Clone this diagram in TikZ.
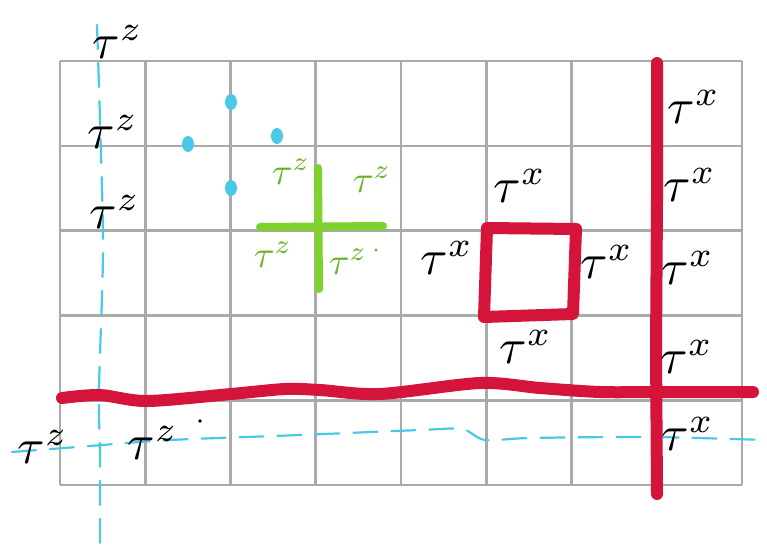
\documentclass[tikz,border=0pt]{standalone}
\usepackage{graphicx}
\definecolor{gridgray}{RGB}{170,170,170}
\definecolor{penred}{RGB}{212,20,58}
\definecolor{pengreen}{RGB}{125,210,45}
\definecolor{penblue}{RGB}{75,200,230}
\newcommand{\bigtau}[1]{\scalebox{5}{$\tau^{#1}$}}
\newcommand{\midtau}[1]{\scalebox{3.8}{$\tau^{#1}$}}
\tikzset{
  gridline/.style={draw=gridgray,line width=2.6pt},
  redpen/.style={draw=penred,line width=12pt,line cap=round,line join=round},
  greenpen/.style={draw=pengreen,line width=8pt,line cap=round},
  bluedash/.style={draw=penblue,line width=2.2pt,dash pattern=on 24pt off 14pt,line cap=round},
  blabel/.style={inner sep=0pt,text=black},
  glabel/.style={inner sep=0pt,text=pengreen!85!black},
  bluedot/.style={fill=penblue},
}
\begin{document}
\begin{tikzpicture}[x=1pt,y=-1pt]
\useasboundingbox (0,0) rectangle (767,555);
\fill[white] (0,0) rectangle (767,555);
% grid
\foreach \i in {0,...,8} \draw[gridline] ({60+\i*85.25},61) -- ({60+\i*85.25},485);
\foreach \j in {0,...,5} \draw[gridline] (60,{61+\j*84.8}) -- (742,{61+\j*84.8});
% blue dashed lines
\draw[bluedash] plot[smooth] coordinates {(97,25) (100,120) (103,250) (99,390) (100,460) (100,552)};
\draw[bluedash] plot[smooth] coordinates {(12,452) (90,446) (170,440) (300,435) (420,430) (462,429) (485,440) (530,438) (650,437) (765,440)};
% blue dots
\path[bluedot] (188,144) ellipse[x radius=6pt,y radius=8pt];
\path[bluedot] (231,102) ellipse[x radius=6pt,y radius=8pt];
\path[bluedot] (231,188) ellipse[x radius=6pt,y radius=8pt];
\path[bluedot] (277,136) ellipse[x radius=6pt,y radius=8pt];
% red lines
\draw[redpen] plot[smooth] coordinates {(62,398) (100,395) (147,401) (231,394) (285,389) (320,390) (380,394) (480,383) (540,388) (600,392) (657,392) (753,392)};
\draw[redpen] (657,63) -- (657,200) -- (656,350) -- (657,494);
\draw[redpen] (487,228) -- (576,229) -- (573,314) -- (484,317) -- cycle;
% green cross
\draw[greenpen] (260,227) -- (383,226);
\draw[greenpen] (318,168) -- (319,289);
% green labels
\node[glabel] (g1) at (291,172) {\midtau{z}};
\node[glabel] (g2) at (372,180) {\midtau{z}};
\node[glabel] (g3) at (273,255) {\midtau{z}};
\node[glabel] (g4) at (348,262) {\midtau{z}};
\fill[pengreen!85!black] (376,250) circle (1.6pt);
% black tau^z labels
\node[blabel] (z1) at (118,42) {\bigtau{z}};
\node[blabel] (z2) at (113,132) {\bigtau{z}};
\node[blabel] (z3) at (115,212) {\bigtau{z}};
\node[blabel] (z4) at (43,447) {\bigtau{z}};
\node[blabel] (z5) at (153,443) {\bigtau{z}};
\fill[black] (200,421) circle (1.8pt);
% black tau^x labels
\node[blabel] (x1) at (520,186) {\bigtau{x}};
\node[blabel] (x2) at (447,258) {\bigtau{x}};
\node[blabel] (x3) at (607,262) {\bigtau{x}};
\node[blabel] (x4) at (526,347) {\bigtau{x}};
\node[blabel] (x5) at (694,107) {\bigtau{x}};
\node[blabel] (x6) at (690,185) {\bigtau{x}};
\node[blabel] (x7) at (688,268) {\bigtau{x}};
\node[blabel] (x8) at (687,357) {\bigtau{x}};
\node[blabel] (x9) at (688,434) {\bigtau{x}};
\end{tikzpicture}
\end{document}
